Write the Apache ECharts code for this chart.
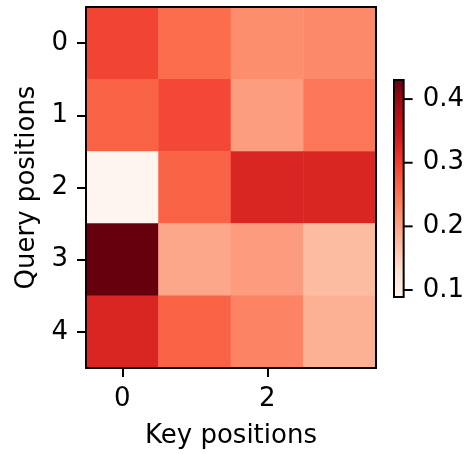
<!DOCTYPE html>
<html>
<head>
<meta charset="utf-8">
<script src="https://cdn.jsdelivr.net/npm/echarts@6/dist/echarts.min.js"></script>
<style>html,body{margin:0;padding:0;background:#fff}#c{width:467px;height:454px}</style>
</head>
<body>
<div id="c"></div>
<script>
// ---- data ----
const keyPositions = ['0', '1', '2', '3'];
const queryPositions = ['0', '1', '2', '3', '4'];
const query0 = [0.294, 0.256, 0.222, 0.225];
const query1 = [0.266, 0.290, 0.205, 0.246];
const query2 = [0.089, 0.266, 0.328, 0.328];
const query3 = [0.430, 0.195, 0.207, 0.173];
const query4 = [0.328, 0.266, 0.232, 0.185];
const colorMin = 0.089;
const colorMax = 0.430;
const colorbarTicks = [0.1, 0.2, 0.3, 0.4];
const redsPalette = ['#fff5f0','#fee0d2','#fcbba1','#fc9272','#fb6a4a','#ef3b2c','#cb181d','#a50f15','#67000d'];

const rows = [query0, query1, query2, query3, query4];
const heatData = [];
rows.forEach((r, qi) => r.forEach((v, ki) => heatData.push([ki, qi, v])));

const FONT = 'DejaVu Sans';
const FS = 26;
const lineStyle = { color: '#000', width: 2 };

const chart = echarts.init(document.getElementById('c'), null, { renderer: 'canvas' });
chart.setOption({
  animation: false,
  backgroundColor: '#fff',
  grid: [
    { left: 86, top: 7, width: 290, height: 363 },
    { left: 394, top: 80, width: 11, height: 217 }
  ],
  xAxis: [
    {
      type: 'category', data: keyPositions, gridIndex: 0, position: 'bottom', z: 10,
      axisLine: { show: true, lineStyle: lineStyle },
      axisTick: { show: true, alignWithLabel: true, interval: 1, length: 9, lineStyle: lineStyle },
      axisLabel: { interval: 1, margin: 18, fontSize: FS, fontFamily: FONT, color: '#000' },
      splitLine: { show: false },
      name: 'Key positions', nameLocation: 'middle', nameGap: 55,
      nameTextStyle: { fontSize: FS, fontFamily: FONT, color: '#000' }
    },
    {
      type: 'category', data: keyPositions, gridIndex: 0, position: 'top', z: 10,
      axisLine: { show: true, lineStyle: lineStyle },
      axisTick: { show: false }, axisLabel: { show: false }, splitLine: { show: false }
    },
    {
      type: 'value', gridIndex: 1, min: 0, max: 1, show: false
    }
  ],
  yAxis: [
    {
      type: 'category', data: queryPositions, gridIndex: 0, inverse: true, position: 'left', z: 10,
      axisLine: { show: true, lineStyle: lineStyle },
      axisTick: { show: true, alignWithLabel: true, length: 9, lineStyle: lineStyle },
      axisLabel: { margin: 18, fontSize: FS, fontFamily: FONT, color: '#000' },
      splitLine: { show: false },
      name: 'Query positions', nameLocation: 'middle', nameGap: 46,
      nameTextStyle: { fontSize: FS, fontFamily: FONT, color: '#000' }
    },
    {
      type: 'category', data: queryPositions, gridIndex: 0, inverse: true, position: 'right', z: 10,
      axisLine: { show: true, lineStyle: lineStyle },
      axisTick: { show: false }, axisLabel: { show: false }, splitLine: { show: false }
    },
    {
      type: 'value', gridIndex: 1, min: colorMin, max: colorMax, position: 'right', z: 10,
      axisLine: { show: false },
      axisTick: { show: false },
      axisLabel: { margin: 19, fontSize: FS, fontFamily: FONT, color: '#000', customValues: colorbarTicks,
        formatter: v => v.toFixed(1) },
      splitLine: { show: false }, minorTick: { show: false }, minorSplitLine: { show: false }
    }
  ],
  visualMap: {
    show: false, type: 'continuous', min: colorMin, max: colorMax, seriesIndex: 0,
    inRange: { color: redsPalette }
  },
  series: [
    {
      type: 'heatmap', xAxisIndex: 0, yAxisIndex: 0, data: heatData,
      itemStyle: { borderWidth: 0 }, emphasis: { disabled: true }
    },
    {
      type: 'custom', xAxisIndex: 2, yAxisIndex: 2, data: [[0, colorMin]], clip: false,
      renderItem: function (params, api) {
        const p0 = api.coord([0, colorMin]);
        const p1 = api.coord([1, colorMax]);
        const stops = redsPalette.map((c, i) => ({ offset: i / (redsPalette.length - 1), color: c }));
        const children = [{
          type: 'rect',
          shape: { x: p0[0], y: p1[1], width: p1[0] - p0[0], height: p0[1] - p1[1] },
          style: { fill: new echarts.graphic.LinearGradient(0, 1, 0, 0, stops), stroke: '#000', lineWidth: 2 }
        }];
        colorbarTicks.forEach(t => {
          const pt = api.coord([1, t]);
          children.push({
            type: 'line',
            shape: { x1: pt[0], y1: pt[1], x2: pt[0] + 9, y2: pt[1] },
            style: { stroke: '#000', lineWidth: 2 }
          });
        });
        return { type: 'group', children: children };
      }
    }
  ]
});
</script>
</body>
</html>
